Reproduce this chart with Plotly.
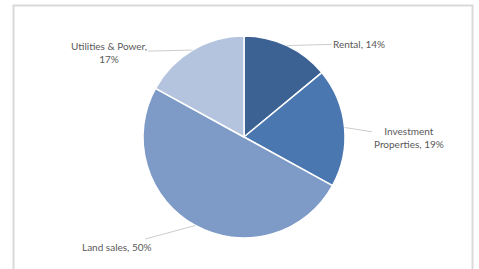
import math
import plotly.graph_objects as go

labels = ["Rental", "Investment Properties", "Land sales", "Utilities & Power"]
values = [14, 19, 50, 17]
label_texts = ["Rental, 14%", "Investment<br>Properties, 19%", "Land sales, 50%", "Utilities & Power,<br>17%"]
colors = ["#3b6293", "#4a77b0", "#7e9bc7", "#b5c4de"]

W, H = 479, 269
cx, cy, R = 244, 137, 101  # pixel centre/radius of pie (from top-left)

# text offsets (pixels) from the slice edge point to label centre
offsets = [(72, -2), (64, 10), (-78, 21), (-84, 2)]

fig = go.Figure(go.Pie(
    labels=labels, values=values, sort=False, direction="clockwise", rotation=0,
    marker=dict(colors=colors, line=dict(color="white", width=1.5)),
    textinfo="none", hoverinfo="label+percent", showlegend=False,
    domain=dict(x=[(cx - R) / W, (cx + R) / W], y=[(H - cy - R) / H, (H - cy + R) / H]),
))

total = sum(values)
cum = 0
annotations = []
for v, txt, (ox, oy) in zip(values, label_texts, offsets):
    mid = (cum + v / 2) / total * 2 * math.pi
    cum += v
    px = cx + R * math.sin(mid)
    py = cy - R * math.cos(mid)
    annotations.append(dict(
        x=px / W, y=1 - py / H, xref="paper", yref="paper",
        text=txt, showarrow=True, arrowhead=0, arrowwidth=0.8, arrowcolor="#bfbfbf",
        ax=ox, ay=oy, font=dict(family="Lato, Arial", size=10, color="#595959"),
        align="center", standoff=0,
    ))

fig.update_layout(
    width=W, height=H, margin=dict(l=0, r=0, t=0, b=0),
    paper_bgcolor="white", plot_bgcolor="white",
    annotations=annotations,
    shapes=[dict(type="rect", xref="paper", yref="paper",
                 x0=13.5 / W, x1=472.5 / W, y0=-0.1, y1=1 - 5.5 / H,
                 line=dict(color="#d9d9d9", width=2), fillcolor="rgba(0,0,0,0)")],
)
fig.write_html("out.html", config={"displayModeBar": False},
               post_script="document.body.style.margin='0';document.body.style.overflow='hidden';")
